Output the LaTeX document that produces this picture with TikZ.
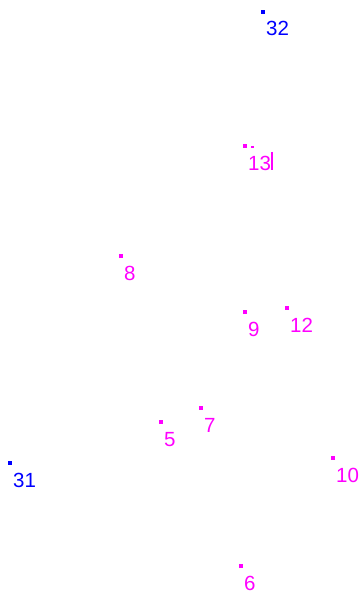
\documentclass[tikz,border=0pt]{standalone}
\usepackage{fontspec}
\setmainfont{Liberation Sans}
\usepackage{xcolor}
\usepackage{tikz}
\usetikzlibrary{positioning}
\definecolor{MarkBlue}{HTML}{0000FF}
\definecolor{MarkPink}{HTML}{FF00FF}

\begin{document}
\begin{tikzpicture}[
  x=1pt, y=-1pt,
  dot/.style={fill, inner sep=0pt, minimum size=3.5pt},
  lab/.style={anchor=base west, inner sep=0pt, font=\fontsize{20.5}{20.5}\selectfont},
  outer/.style={MarkBlue},
  inner/.style={MarkPink}
]
\useasboundingbox (0,0) rectangle (360,596);

% outer points
\node[dot, outer] (d32) at (263,12) {};
\node[dot, outer] (d31) at (10,463) {};
\node[lab, outer] (l32) at ([shift={(3,24)}]d32) {32};
\node[lab, outer] (l31) at ([shift={(3,24)}]d31) {31};

% inner points
\node[dot, inner] (d13) at (245,146) {};
\node[dot, inner] (d8) at (121,256) {};
\node[dot, inner] (d9) at (245,312) {};
\node[dot, inner] (d12) at (287,308) {};
\node[dot, inner] (d5) at (161,422) {};
\node[dot, inner] (d7) at (201,408) {};
\node[dot, inner] (d10) at (333,458) {};
\node[dot, inner] (d6) at (241,566) {};
\node[lab, inner] (l13) at ([shift={(3,24)}]d13) {13};
\node[lab, inner] (l8) at ([shift={(3,24)}]d8) {8};
\node[lab, inner] (l9) at ([shift={(3,24)}]d9) {9};
\node[lab, inner] (l12) at ([shift={(3,24)}]d12) {12};
\node[lab, inner] (l5) at ([shift={(3,24)}]d5) {5};
\node[lab, inner] (l7) at ([shift={(3,24)}]d7) {7};
\node[lab, inner] (l10) at ([shift={(3,24)}]d10) {10};
\node[lab, inner] (l6) at ([shift={(3,24)}]d6) {6};

% stray marks beside 13
\node[inner, fill, inner sep=0pt, minimum width=3pt, minimum height=1.5pt] (tick13) at (252.5,147) {};
\draw[inner, line width=1.2pt] (272,152) -- (272,170);
\end{tikzpicture}
\end{document}
